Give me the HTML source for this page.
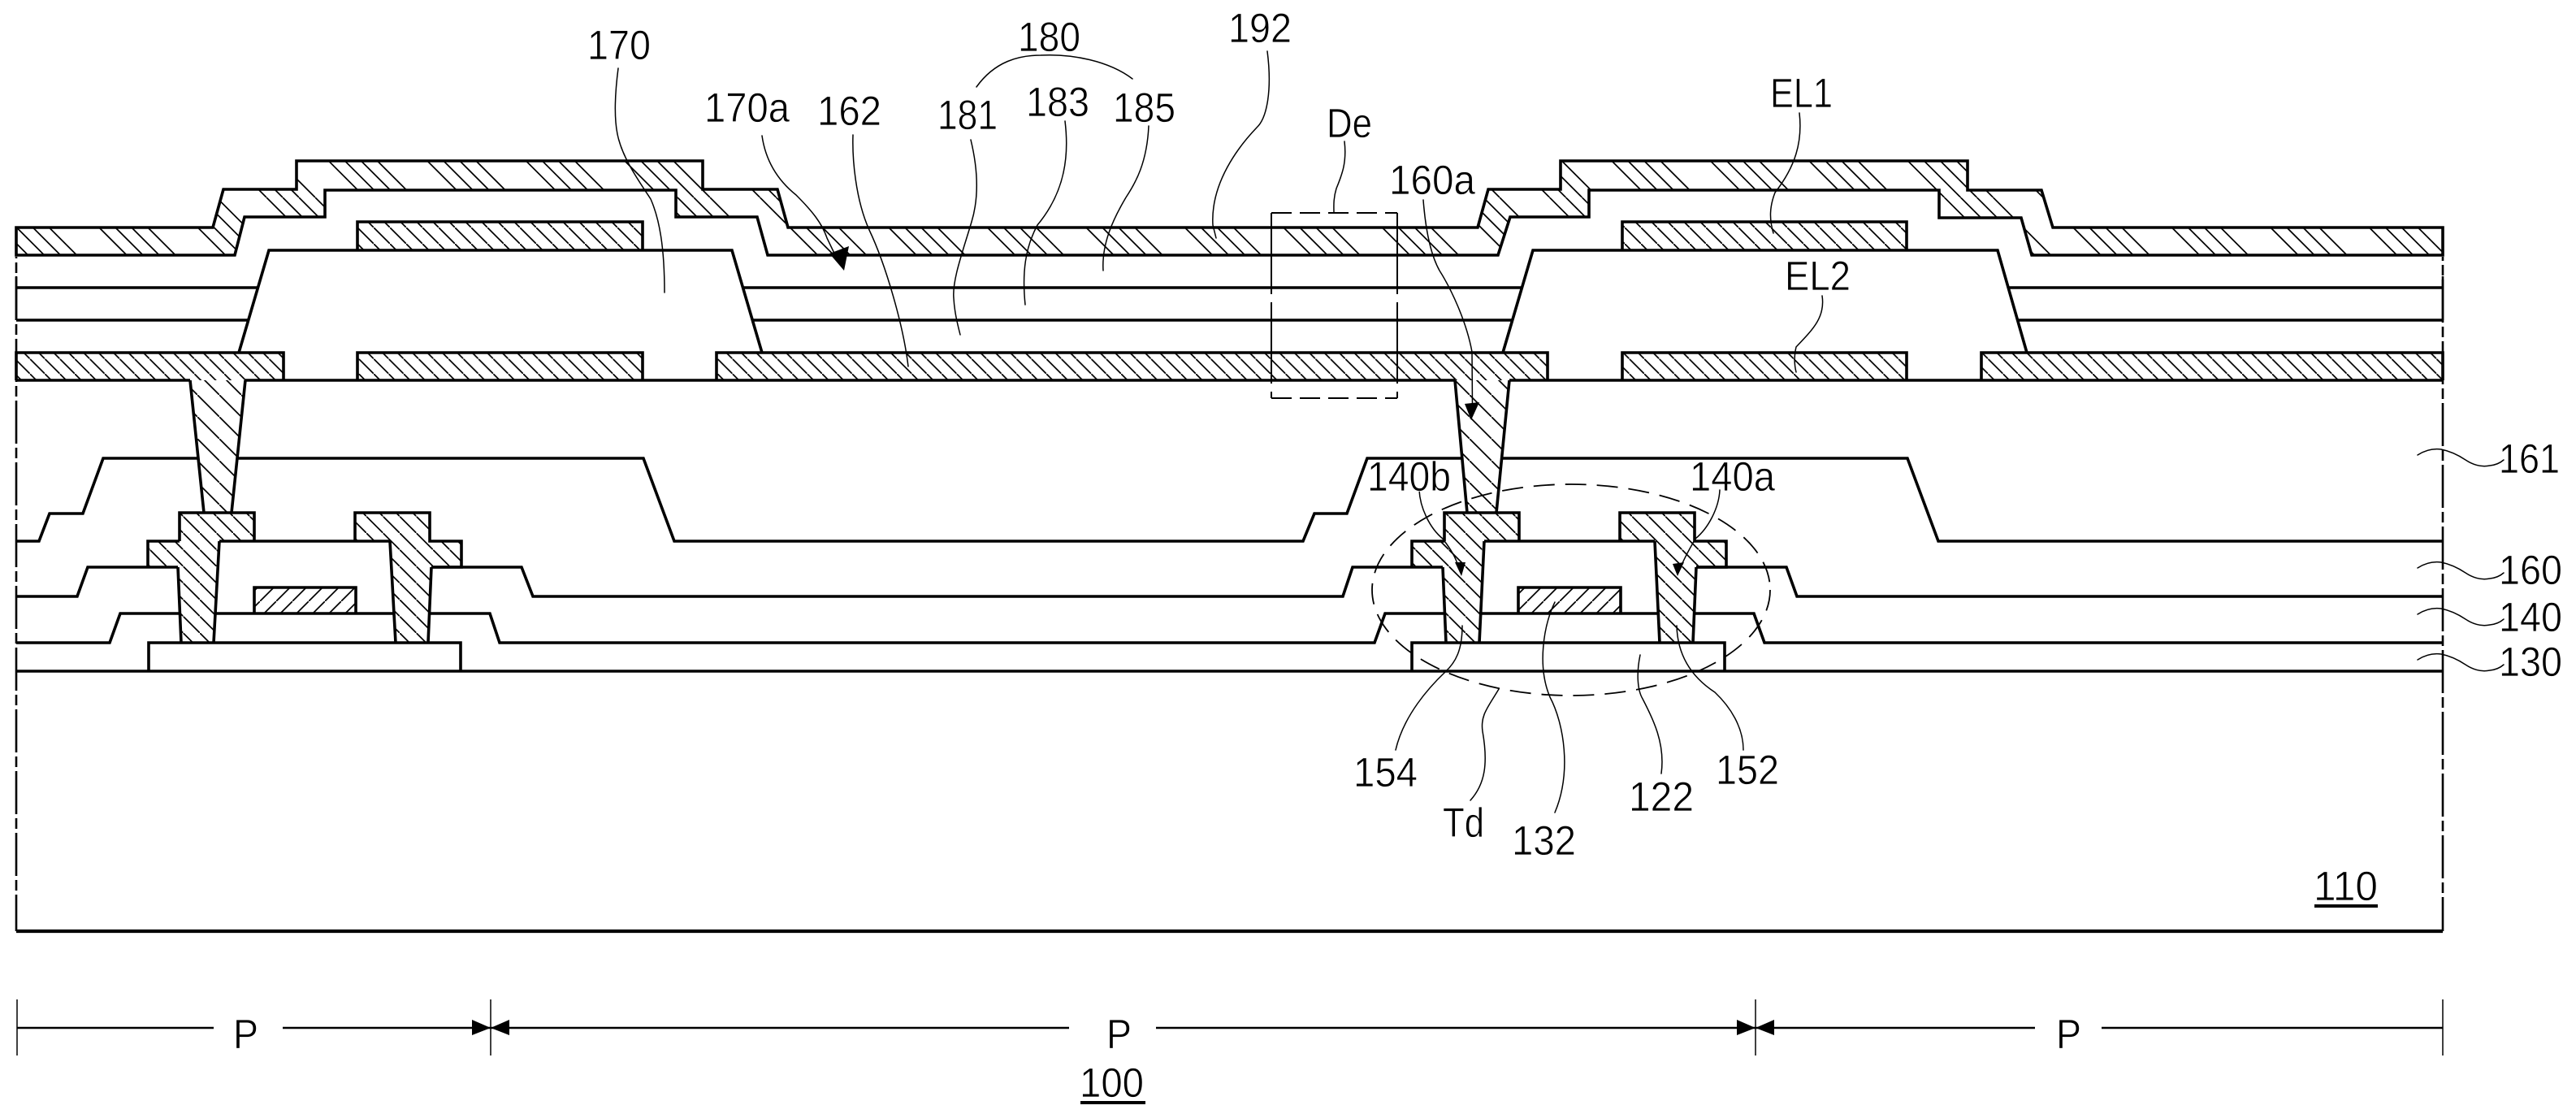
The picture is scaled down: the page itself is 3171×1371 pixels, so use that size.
<!DOCTYPE html>
<html>
<head>
<meta charset="utf-8">
<style>
html,body{margin:0;padding:0;background:#fff;}
svg{display:block;}
text{font-family:"Liberation Sans",sans-serif;font-size:51px;fill:#000;stroke:#fff;stroke-width:0.7px;}
</style>
</head>
<body>
<svg width="3171" height="1371" viewBox="0 0 3171 1371" xmlns="http://www.w3.org/2000/svg">
<defs>
<pattern id="hA" patternUnits="userSpaceOnUse" width="121.5" height="121.5">
<g stroke="#000" stroke-width="1.7">
<line x1="3.5" y1="0" x2="125" y2="121.5"/><line x1="-118" y1="0" x2="3.5" y2="121.5"/>
<line x1="23.5" y1="0" x2="145" y2="121.5"/><line x1="-98" y1="0" x2="23.5" y2="121.5"/>
<line x1="85" y1="0" x2="206.5" y2="121.5"/><line x1="-36.5" y1="0" x2="85" y2="121.5"/>
<line x1="105" y1="0" x2="226.5" y2="121.5"/><line x1="-16.5" y1="0" x2="105" y2="121.5"/>
</g>
</pattern>
<pattern id="hB" patternUnits="userSpaceOnUse" width="18.4" height="18.4">
<line x1="-2" y1="-2" x2="20.4" y2="20.4" stroke="#000" stroke-width="1.7"/>
</pattern>
<pattern id="hC" patternUnits="userSpaceOnUse" width="27" height="27">
<line x1="-2" y1="-2" x2="29" y2="29" stroke="#000" stroke-width="1.7"/>
</pattern>
<pattern id="hD" patternUnits="userSpaceOnUse" width="20.5" height="20.5">
<line x1="-2" y1="-2" x2="22.5" y2="22.5" stroke="#000" stroke-width="1.7"/>
</pattern>
<pattern id="hE" patternUnits="userSpaceOnUse" width="20" height="20">
<line x1="-2" y1="-2" x2="22" y2="22" stroke="#000" stroke-width="1.7"/>
</pattern>
<pattern id="hF" patternUnits="userSpaceOnUse" width="20" height="20">
<line x1="-2" y1="22" x2="22" y2="-2" stroke="#000" stroke-width="1.7"/>
</pattern>
</defs>
<rect width="3171" height="1371" fill="#fff"/>

<!-- hatch fills -->
<g stroke="none">
<path fill="url(#hA)" d="M20 280 L262 280 L275 233 L365 233 L365 198 L865 198 L865 233 L957 233 L970 280 L1819 280 L1832 233 L1921 233 L1921 198 L2422 198 L2422 234 L2513 234 L2527 280 L3007 280 L3007 314 L2501 314 L2488 268 L2387 268 L2387 234 L1956 234 L1956 267 L1859 267 L1844 314 L945 314 L932 267 L832 267 L832 234 L400 234 L400 267 L301 267 L289 314 L20 314 Z"/>
<rect x="440" y="273" width="351" height="35" fill="url(#hE)"/>
<rect x="1997" y="273" width="350" height="35" fill="url(#hE)"/>
<rect x="20" y="434" width="329" height="34" fill="url(#hB)"/>
<rect x="440" y="434" width="351" height="34" fill="url(#hB)"/>
<rect x="882" y="434" width="1023" height="34" fill="url(#hB)"/>
<rect x="1997" y="434" width="350" height="34" fill="url(#hB)"/>
<rect x="2439" y="434" width="568" height="34" fill="url(#hB)"/>
<path fill="url(#hC)" d="M234 468 L302 468 L285 631 L251 631 Z"/>
<path fill="url(#hC)" d="M1791 468 L1858 468 L1842 631 L1806 631 Z"/>
<path fill="url(#hD)" d="M221 631 L313 631 L313 666 L270 666 L263 791 L223 791 L219 698 L182 698 L182 666 L221 666 Z"/>
<path fill="url(#hD)" d="M437 631 L529 631 L529 666 L568 666 L568 698 L531 698 L527 791 L487 791 L480 666 L437 666 Z"/>
<path fill="url(#hD)" d="M1778 631 L1870 631 L1870 666 L1827 666 L1821 791 L1780 791 L1776 698 L1738 698 L1738 666 L1778 666 Z"/>
<path fill="url(#hD)" d="M1994 631 L2086 631 L2086 666 L2125 666 L2125 698 L2088 698 L2084 791 L2043 791 L2037 666 L1994 666 Z"/>
<rect x="313" y="723" width="125" height="32" fill="url(#hF)"/>
<rect x="1869" y="723" width="126" height="32" fill="url(#hF)"/>
</g>

<!-- bold structure lines -->
<g fill="none" stroke="#000" stroke-width="3.6" stroke-linejoin="miter">
<path d="M20 280 L262 280 L275 233 L365 233 L365 198 L865 198 L865 233 L957 233 L970 280 L1819 280 L1832 233 L1921 233 L1921 198 L2422 198 L2422 234 L2513 234 L2527 280 L3007 280 L3007 314 L2501 314 L2488 268 L2387 268 L2387 234 L1956 234 L1956 267 L1859 267 L1844 314 L945 314 L932 267 L832 267 L832 234 L400 234 L400 267 L301 267 L289 314 L20 314 Z"/>
<path d="M440 308 L440 273 L791 273 L791 308"/>
<path d="M1997 308 L1997 273 L2347 273 L2347 308"/>
<path d="M294 434 L331 308 L901 308 L938 434"/>
<path d="M1850 434 L1887 308 L2459 308 L2495 434"/>
<path d="M20 354 H317 M20 394 H306 M914 354 H1873 M926 394 H1862 M2472 354 H3007 M2484 394 H3007"/>
<path d="M20 468 V434 H349 V468 M440 468 V434 H791 V468 M882 468 V434 H1905 V468 M1997 468 V434 H2347 V468 M2439 468 V434 H3007 V468"/>
<path d="M20 468 H234 M302 468 H1791 M1858 468 H3007"/>
<path d="M234 468 L251 631 M302 468 L285 631 M1791 468 L1806 631 M1858 468 L1842 631"/>
<path d="M20 666 H48 L61 632 H102 L127 564 H243 M293 564 H792 L830 666 H1604 L1618 632 H1658 L1683 564 H1800 M1848 564 H2348 L2386 666 H3007"/>
<path d="M221 666 V631 H313 V666 M270 666 H480 M437 666 V631 H529 V666 H568 V698 H531 M182 698 V666 H221 M270 666 L263 791 M219 698 L223 791 M480 666 L487 791 M531 698 L527 791"/>
<path d="M1778 666 V631 H1870 V666 M1827 666 H2037 M1994 666 V631 H2086 V666 H2125 V698 H2088 M1738 698 V666 H1778 M1827 666 L1821 791 M1776 698 L1780 791 M2037 666 L2043 791 M2088 698 L2084 791"/>
<path d="M20 734 H95 L108 698 H219 M531 698 H642 L656 734 H1653 L1665 698 H1776 M2088 698 H2199 L2212 734 H3007"/>
<path d="M20 791 H135 L148 755 H221 M265 755 H485 M529 755 H603 L615 791 H1692 L1705 755 H1778 M1823 755 H2042 M2086 755 H2159 L2172 791 H3007"/>
<path d="M313 755 V723 H438 V755 M1869 755 V723 H1995 V755"/>
<path d="M183 826 V791 H567 V826 M1738 826 V791 H2123 V826"/>
<path d="M20 826 H3007"/>
<path d="M20 1146 H3007" stroke-width="4.2"/>
</g>

<!-- frame sides -->
<g fill="none" stroke="#000" stroke-width="2.6">
<path d="M20 316 V1146" stroke-dasharray="53 5 13 5" stroke-dashoffset="51"/>
<path d="M3007 316 V1146" stroke-dasharray="53 5 13 5" stroke-dashoffset="48"/>
<path d="M20 340 V394 M3007 340 V394"/>
</g>

<!-- De dashed box -->
<g fill="none" stroke="#000" stroke-width="2">
<path d="M1565 262 H1720 M1565 490 H1720" stroke-dasharray="25 10"/>
<path d="M1565 262 V490 M1720 262 V490" stroke-dasharray="100 10"/>
</g>

<!-- Td ellipse -->
<ellipse cx="1934" cy="726" rx="245" ry="130" fill="none" stroke="#000" stroke-width="1.8" stroke-dasharray="26 13"/>

<!-- dimension lines -->
<g fill="none" stroke="#000">
<path stroke-width="2.6" d="M21 1265 H263 M348 1265 H604 M604 1265 H1316 M1423 1265 H2161 M2161 1265 H2505 M2587 1265 H3007"/>
<path stroke-width="1.5" d="M21 1230 V1299 M604 1230 V1299 M2161 1230 V1299 M3007 1230 V1299"/>
</g>
<g fill="#000" stroke="none">
<path d="M581 1255 L604 1265 L581 1274 Z M627 1255 L604 1265 L627 1274 Z"/>
<path d="M2138 1255 L2161 1265 L2138 1274 Z M2184 1255 L2161 1265 L2184 1274 Z"/>
<path d="M1039 333 L1021 312 L1045 303 Z"/>
<path d="M1811 517 L1803 497 L1821 495 Z"/>
<path d="M1799 709 L1791 692 L1804 692 Z"/>
<path d="M2065 709 L2059 694 L2073 692 Z"/>
<rect x="2849" y="1113" width="78" height="4"/>
<rect x="1330" y="1355" width="80" height="4"/>
</g>

<!-- leaders -->
<g fill="none" stroke="#000" stroke-width="1.5" stroke-linecap="round">
<path d="M761 84 C757 115 756 145 760 165 C766 195 788 225 801 245 C812 270 818 305 818 360"/>
<path d="M938 167 C942 195 955 220 980 240 C1000 260 1012 275 1018 293 L1031 320"/>
<path d="M1050 166 C1049 195 1053 245 1070 283 C1090 325 1112 400 1118 451"/>
<path d="M1195 172 C1203 205 1206 240 1196 273 C1185 310 1172 345 1174 367 C1175 385 1179 400 1182 412"/>
<path d="M1311 149 C1316 190 1312 235 1277 277 C1262 305 1258 335 1262 375"/>
<path d="M1414 155 C1412 200 1398 225 1386 243 C1370 270 1356 300 1358 333"/>
<path d="M1202 107 C1225 75 1255 68 1281 68 C1320 66 1365 75 1394 97"/>
<path d="M1560 63 C1566 110 1560 145 1547 157 C1525 180 1490 225 1493 277 L1497 293"/>
<path d="M1655 174 C1658 200 1652 215 1645 232 C1641 245 1642 255 1642 262"/>
<path d="M1752 246 C1755 285 1762 315 1772 333 C1786 355 1805 395 1812 433 L1812.5 500"/>
<path d="M1747 603 C1748 625 1760 650 1776 663 C1785 675 1792 685 1796 700"/>
<path d="M2117 603 C2116 625 2103 650 2087 663 C2080 675 2072 690 2068 700"/>
<path d="M1800 770 C1800 800 1792 815 1779 827 C1760 845 1728 880 1718 923"/>
<path d="M1845 848 C1832 870 1822 880 1825 900 C1832 940 1828 965 1810 985"/>
<path d="M1914 741 C1900 770 1892 820 1908 858 C1925 890 1935 950 1914 1000"/>
<path d="M2019 806 C2014 830 2016 850 2022 860 C2035 885 2050 915 2045 952"/>
<path d="M2064 770 C2065 810 2085 835 2111 852 C2130 870 2146 895 2146 923"/>
<path d="M2215 139 C2219 175 2210 205 2185 237 C2178 255 2178 270 2183 287"/>
<path d="M2243 364 C2247 390 2232 405 2211 427 C2208 440 2209 450 2211 458"/>
<path d="M2976 560 Q2990 551 3005 553 Q3020 556 3035 566 Q3050 576 3065 573 Q3075 572 3082 566"/>
<path d="M2976 699 Q2990 690 3005 692 Q3020 695 3035 705 Q3050 715 3065 712 Q3075 711 3082 705"/>
<path d="M2976 756 Q2990 747 3005 749 Q3020 752 3035 762 Q3050 772 3065 769 Q3075 768 3082 762"/>
<path d="M2976 812 Q2990 803 3005 805 Q3020 808 3035 818 Q3050 828 3065 825 Q3075 824 3082 818"/>
</g>

<!-- labels -->
<g>
<text x="723" y="73" textLength="78" lengthAdjust="spacingAndGlyphs">170</text>
<text x="867" y="150" textLength="105" lengthAdjust="spacingAndGlyphs">170a</text>
<text x="1006" y="154" textLength="79" lengthAdjust="spacingAndGlyphs">162</text>
<text x="1154" y="159" textLength="74" lengthAdjust="spacingAndGlyphs">181</text>
<text x="1263" y="143" textLength="78" lengthAdjust="spacingAndGlyphs">183</text>
<text x="1370" y="150" textLength="77" lengthAdjust="spacingAndGlyphs">185</text>
<text x="1253" y="63" textLength="77" lengthAdjust="spacingAndGlyphs">180</text>
<text x="1512" y="52" textLength="78" lengthAdjust="spacingAndGlyphs">192</text>
<text x="1633" y="169" textLength="56" lengthAdjust="spacingAndGlyphs">De</text>
<text x="1710" y="239" textLength="106" lengthAdjust="spacingAndGlyphs">160a</text>
<text x="1683" y="604" textLength="103" lengthAdjust="spacingAndGlyphs">140b</text>
<text x="2080" y="604" textLength="105" lengthAdjust="spacingAndGlyphs">140a</text>
<text x="2179" y="132" textLength="77" lengthAdjust="spacingAndGlyphs">EL1</text>
<text x="2197" y="357" textLength="81" lengthAdjust="spacingAndGlyphs">EL2</text>
<text x="3076" y="582" textLength="75" lengthAdjust="spacingAndGlyphs">161</text>
<text x="3076" y="719" textLength="78" lengthAdjust="spacingAndGlyphs">160</text>
<text x="3076" y="777" textLength="78" lengthAdjust="spacingAndGlyphs">140</text>
<text x="3076" y="832" textLength="78" lengthAdjust="spacingAndGlyphs">130</text>
<text x="1666" y="968" textLength="79" lengthAdjust="spacingAndGlyphs">154</text>
<text x="2112" y="965" textLength="78" lengthAdjust="spacingAndGlyphs">152</text>
<text x="2005" y="998" textLength="80" lengthAdjust="spacingAndGlyphs">122</text>
<text x="1861" y="1052" textLength="79" lengthAdjust="spacingAndGlyphs">132</text>
<text x="1776" y="1030" textLength="51" lengthAdjust="spacingAndGlyphs">Td</text>
<text x="2848" y="1108" textLength="79" lengthAdjust="spacingAndGlyphs">110</text>
<text x="1329" y="1350" textLength="79" lengthAdjust="spacingAndGlyphs">100</text>
<text x="287" y="1290" textLength="31" lengthAdjust="spacingAndGlyphs">P</text>
<text x="1362" y="1290" textLength="31" lengthAdjust="spacingAndGlyphs">P</text>
<text x="2531" y="1290" textLength="31" lengthAdjust="spacingAndGlyphs">P</text>
</g>
</svg>
</body>
</html>
